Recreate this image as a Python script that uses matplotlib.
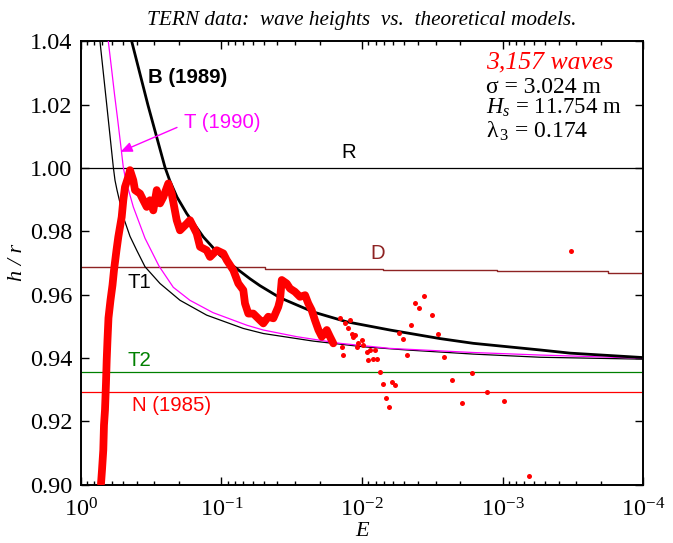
import matplotlib
matplotlib.use("Agg")
import matplotlib.pyplot as plt
from matplotlib.ticker import LogLocator, FixedLocator, NullFormatter, LogFormatterMathtext

plt.rcParams["mathtext.fontset"] = "custom"
plt.rcParams["mathtext.rm"] = "Liberation Serif"
plt.rcParams["mathtext.it"] = "Liberation Serif:italic"
plt.rcParams["font.family"] = "Liberation Serif"

# ---- theoretical curves: E, h/r ----
B_E = [0.4339, 0.3323, 0.2516, 0.2318, 0.2067, 0.1763, 0.1343, 0.1022, 0.0822, 0.0626,
       0.0531, 0.0383, 0.0222, 0.01285, 0.00632, 0.00279, 0.001617, 5.41e-4, 3.31e-4, 1e-4]
B_H = [1.0400, 1.0198, 1.0002, 0.9958, 0.9908, 0.9856, 0.9782, 0.9724, 0.9690, 0.9650,
       0.9628, 0.9590, 0.9545, 0.9514, 0.9488, 0.9461, 0.9446, 0.9425, 0.9415, 0.9401]

T_E = [0.6363, 0.6040, 0.5750, 0.5474, 0.5212, 0.4978, 0.4842, 0.4710, 0.4227, 0.3490,
       0.2775, 0.2196, 0.1674, 0.1147, 0.0657, 0.0503, 0.0291, 0.01434, 0.00632, 0.001617,
       5.41e-4, 1e-4]
T_H = [1.0400, 1.0315, 1.0233, 1.0157, 1.0078, 1.0002, 0.9974, 0.9951, 0.9877, 0.9778,
       0.9690, 0.9623, 0.9582, 0.9543, 0.9503, 0.9488, 0.9467, 0.9446, 0.9430, 0.9417,
       0.9409, 0.9399]

T1_E = [0.7293, 0.6534, 0.5864, 0.5703, 0.5518, 0.4978, 0.4461, 0.3997, 0.3490, 0.2730,
        0.1968, 0.1271, 0.0698, 0.0503, 0.0222, 0.00979, 0.00481, 0.001617, 5.41e-4, 1e-4]
T1_H = [1.0400, 1.0201, 1.0003, 0.9961, 0.9930, 0.9845, 0.9784, 0.9740, 0.9688, 0.9635,
        0.9582, 0.9535, 0.9493, 0.9477, 0.9453, 0.9435, 0.9425, 0.9412, 0.9402, 0.9396]

# D model: piecewise-constant in E
D_E = [1.0, 0.0489, 0.0489, 0.0071, 0.0071, 0.0011, 0.0011, 1.78e-4, 1.78e-4, 1e-4]
D_H = [0.9686, 0.9686, 0.9682, 0.9682, 0.9679, 0.9679, 0.9676, 0.9676, 0.9669, 0.9669]

R_LEVEL = 1.000
T2_LEVEL = 0.9356
N_LEVEL = 0.9291

# ---- TERN measurements ----
# densely packed run of waves (sorted by E)
dense_E = [0.7172, 0.7055, 0.6908, 0.6829, 0.6719, 0.6610, 0.6534, 0.6450, 0.6346, 0.6141,
           0.5941, 0.5798, 0.5566, 0.5403, 0.5111, 0.4978, 0.4842, 0.4587, 0.4461, 0.4227,
           0.4111, 0.3788, 0.3589, 0.3394, 0.3216, 0.3047, 0.2881, 0.2730, 0.2587, 0.2383,
           0.2254, 0.2077, 0.1968, 0.1763, 0.1671, 0.1497, 0.1418, 0.1271, 0.1204, 0.1079,
           0.0968, 0.0916, 0.0822, 0.0757, 0.0698, 0.0679, 0.0643, 0.0593, 0.0531, 0.0503,
           0.0464, 0.0427, 0.0394, 0.0383, 0.0372, 0.0343, 0.0325, 0.0300, 0.0276, 0.0254,
           0.0241, 0.0228, 0.0216, 0.0204, 0.0193, 0.0178, 0.0169, 0.0160]
dense_H = [0.9002, 0.9046, 0.9109, 0.9188, 0.9235, 0.9320, 0.9393, 0.9456, 0.9526, 0.9582,
           0.9630, 0.9677, 0.9740, 0.9782, 0.9845, 0.9898, 0.9940, 0.9972, 0.9993, 0.9961,
           0.9930, 0.9919, 0.9898, 0.9877, 0.9898, 0.9866, 0.9930, 0.9888, 0.9908, 0.9951,
           0.9919, 0.9835, 0.9803, 0.9824, 0.9835, 0.9793, 0.9751, 0.9740, 0.9719, 0.9740,
           0.9730, 0.9709, 0.9677, 0.9635, 0.9614, 0.9572, 0.9540, 0.9540, 0.9519, 0.9509,
           0.9530, 0.9525, 0.9561, 0.9582, 0.9646, 0.9635, 0.9619, 0.9609, 0.9593, 0.9598,
           0.9572, 0.9551, 0.9519, 0.9488, 0.9467, 0.9488, 0.9467, 0.9446]

# isolated waves at small E
sparse_E = [0.01434, 0.01321, 0.01217, 0.01252, 0.01183, 0.01121, 0.01153, 0.01005, 0.01062,
            0.00979, 0.01091, 0.01394, 0.01358, 0.00926, 0.00877, 0.00808, 0.00902, 0.00831,
            0.00786, 0.00745, 0.00706, 0.00670, 0.00643, 0.00617, 0.00580, 0.00543, 0.00511,
            0.00481, 0.00450, 0.00423, 0.00391, 0.00361, 0.00319, 0.00287, 0.00260, 0.00228,
            0.00194, 0.00164, 0.00129, 0.000978, 0.000646, 0.000327]
sparse_H = [0.9525, 0.9509, 0.9519, 0.9493, 0.9477, 0.9472, 0.9467, 0.9456, 0.9446,
            0.9440, 0.9435, 0.9435, 0.9409, 0.9419, 0.9425, 0.9425, 0.9393, 0.9398,
            0.9398, 0.9357, 0.9319, 0.9274, 0.9246, 0.9323, 0.9314, 0.9478, 0.9461,
            0.9410, 0.9504, 0.9574, 0.9557, 0.9597, 0.9537, 0.9474, 0.9402, 0.9331,
            0.9258, 0.9353, 0.9291, 0.9263, 0.9028, 0.9737]

X_TICKS = [1, 1e-1, 1e-2, 1e-3, 1e-4]
Y_TICKS = [0.90, 0.92, 0.94, 0.96, 0.98, 1.00, 1.02, 1.04]

TITLE = "TERN data:  wave heights  vs.  theoretical models."
N_WAVES = "3,157 waves"
SIGMA = 3.024
HS = 11.754
LAMBDA3 = 0.174

MAGENTA = "#FF00FF"
DRED = "#8E2323"
GREEN = "#008000"
RED = "#FF0000"

fig = plt.figure(figsize=(6.73, 5.43), dpi=100)
ax = fig.add_axes([0.1199, 0.1077, 0.8360, 0.8162])
ax.set_xscale("log")
ax.set_xlim(1, 1e-4)
ax.set_ylim(0.90, 1.04)

# horizontal model levels
ax.axhline(R_LEVEL, color="black", lw=0.9, zorder=2)
ax.axhline(T2_LEVEL, color=GREEN, lw=0.9, zorder=2)
ax.axhline(N_LEVEL, color=RED, lw=0.9, zorder=2)
ax.plot(D_E, D_H, color=DRED, lw=1.0, zorder=2)

# curves
ax.plot(T1_E, T1_H, color="black", lw=0.9, zorder=3)
ax.plot(T_E, T_H, color=MAGENTA, lw=0.9, zorder=3)
ax.plot(B_E, B_H, color="black", lw=2.0, zorder=3)

# data
ax.plot(dense_E, dense_H, color=RED, lw=5.6, solid_capstyle="round",
        solid_joinstyle="round", zorder=4)
ax.plot(sparse_E, sparse_H, "o", color=RED, ms=3.6, mec="none", zorder=4)

# labels on the models
sans = "Liberation Sans"
lab = 14.7
ax.text(0.3307, 1.0286, "B (1989)", fontsize=lab, fontweight="bold", family=sans,
        ha="left", va="center")
ax.text(0.1843, 1.0145, "T (1990)", fontsize=lab, color=MAGENTA, family=sans,
        ha="left", va="center")
ax.annotate("", xy=(0.5212, 1.0051), xytext=(0.2067, 1.0128),
            arrowprops=dict(arrowstyle="-|>,head_length=0.7,head_width=0.3",
                            color=MAGENTA, lw=1.0, shrinkA=0, shrinkB=0))
ax.text(0.01238, 1.0050, "R", fontsize=lab, family=sans, ha="center", va="center")
ax.text(0.00769, 0.9731, "D", fontsize=lab, color=DRED, family=sans, ha="center", va="center")
ax.text(0.3851, 0.9638, "T1", fontsize=lab, family=sans, ha="center", va="center")
ax.text(0.3819, 0.9393, "T2", fontsize=lab, color=GREEN, family=sans, ha="center", va="center")
ax.text(0.2244, 0.9251, "N (1985)", fontsize=lab, color=RED, family=sans,
        ha="center", va="center")

# statistics block
ax.text(0.7204, 0.9391, N_WAVES, transform=ax.transAxes, fontsize=18.5, color=RED,
        style="italic", va="baseline")
ax.text(0.7204, 0.8827, "σ = %.3f m" % SIGMA, transform=ax.transAxes, fontsize=17,
        va="baseline")
ax.text(0.7204, 0.8360, r"$H_s$ = %.3f m" % HS, transform=ax.transAxes, fontsize=16.5,
        va="baseline")
ax.text(0.7204, 0.7834, r"λ$_{\,3}$ = %.3f" % LAMBDA3, transform=ax.transAxes, fontsize=17,
        va="baseline")

# axes styling
ax.xaxis.set_major_locator(FixedLocator(X_TICKS))
ax.xaxis.set_major_formatter(LogFormatterMathtext())
ax.xaxis.set_minor_locator(LogLocator(base=10, subs=range(2, 10)))
ax.xaxis.set_minor_formatter(NullFormatter())
ax.yaxis.set_major_locator(FixedLocator(Y_TICKS))
ax.set_yticklabels(["%.2f" % v for v in Y_TICKS])
ax.tick_params(which="both", direction="in", top=True, right=True, labelsize=17.5, width=1.0)
ax.tick_params(which="major", length=6)
ax.tick_params(which="minor", length=3)
ax.tick_params(axis="x", pad=10)
ax.tick_params(axis="y", pad=6)
for s in ax.spines.values():
    s.set_linewidth(1.4)

ax.set_xlabel("E", fontsize=16, style="italic", labelpad=0)
ax.set_ylabel("h / r", fontsize=16, style="italic", labelpad=2)
fig.text(0.538, 0.962, TITLE, fontsize=15.3, style="italic", ha="center", va="center")

fig.savefig("out.png", dpi=100)
